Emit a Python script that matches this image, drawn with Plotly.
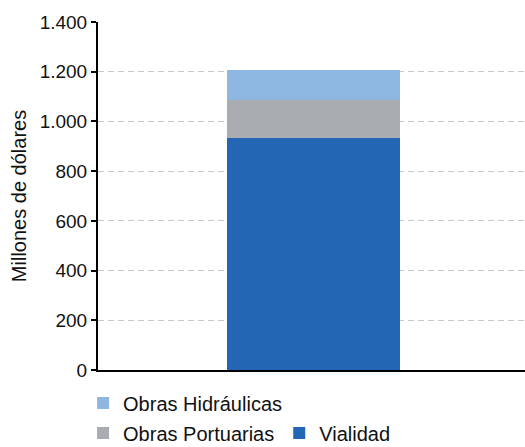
import plotly.graph_objects as go

categories = ["Total"]
vialidad = [933]
obras_portuarias = [154]
obras_hidraulicas = [120]
y_ticks = [0, 200, 400, 600, 800, 1000, 1200, 1400]

FONT = "Liberation Sans, Arial, sans-serif"

fig = go.Figure()
fig.add_trace(go.Bar(x=categories, y=vialidad, name="Vialidad",
                     marker=dict(color="#2366B3", line=dict(width=0)),
                     width=0.405, legend="legend2"))
fig.add_trace(go.Bar(x=categories, y=obras_portuarias, name="Obras Portuarias",
                     marker=dict(color="#A9ACB1", line=dict(width=0)),
                     width=0.405, legend="legend2"))
fig.add_trace(go.Bar(x=categories, y=obras_hidraulicas, name="Obras Hidráulicas",
                     marker=dict(color="#8DB7E1", line=dict(width=0)),
                     width=0.405, legend="legend"))

fig.update_layout(
    width=525, height=447,
    barmode="stack",
    separators=",.",
    showlegend=True,
    paper_bgcolor="white", plot_bgcolor="white",
    margin=dict(l=98, r=0, t=22, b=77, autoexpand=False),
    font=dict(family=FONT, size=19, color="#111111"),
    xaxis=dict(range=[-0.505, 0.495], showticklabels=False, ticks="",
               showgrid=False, showline=True, linecolor="black", linewidth=2,
               zeroline=False, automargin=False),
    yaxis=dict(range=[0, 1400], tickvals=y_ticks, separatethousands=True,
               tickformat=",d", automargin=False,
               ticks="outside", ticklen=5, tickwidth=2, tickcolor="black",
               showline=True, linecolor="black", linewidth=2,
               showgrid=True, gridcolor="#c8c8c8", gridwidth=1, griddash="6px,4px",
               zeroline=False,
               title=dict(text="Millones de dólares", standoff=8,
                          font=dict(size=20))),
    legend=dict(orientation="h", x=-0.035, xanchor="left", y=-0.095, yanchor="middle",
                font=dict(size=20), bgcolor="rgba(0,0,0,0)", traceorder="normal",
                visible=True),
    legend2=dict(orientation="h", x=-0.035, xanchor="left", y=-0.181, yanchor="middle",
                 font=dict(size=20), bgcolor="rgba(0,0,0,0)", traceorder="reversed",
                 visible=True),
)

fig.write_html("out.html",
               config={"displayModeBar": False},
               post_script="document.body.style.margin='0';document.body.style.overflow='hidden';")
